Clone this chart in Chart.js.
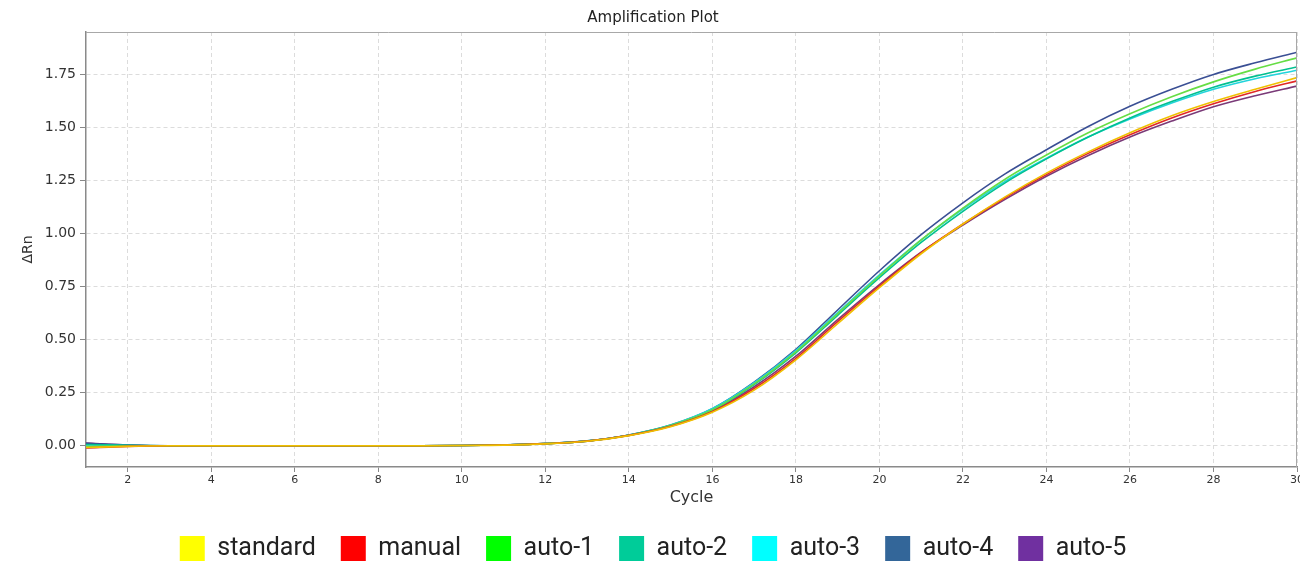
<!DOCTYPE html>
<html><head><meta charset="utf-8">
<script src="https://cdn.jsdelivr.net/npm/chart.js"></script>
<style>
html,body{margin:0;padding:0;background:#fff;overflow:hidden;width:1300px;height:566px}
#wrap{position:absolute;left:0;top:0;width:1306px;height:566px}
</style>
</head><body>
<div id="wrap"><canvas id="c"></canvas></div>
<script>
const cycles = [1,2,3,4,5,6,7,8,9,10,11,12,13,14,15,16,17,18,19,20,21,22,23,24,25,26,27,28,29,30];
const xTicks = [2,4,6,8,10,12,14,16,18,20,22,24,26,28,30];
const yTicks = [0,0.25,0.5,0.75,1.0,1.25,1.5,1.75];
const seriesNames = ['standard','manual','auto-1','auto-2','auto-3','auto-4','auto-5'];
const legendColors = ['#ffff00','#ff0000','#00ff00','#00cc99','#00ffff','#336699','#7030a0'];
const lineColors = ['#f0c000','#e02828','#66dd44','#00c090','#22d4dc','#3a4f94','#7a3a78'];

const standard = [-0.008,-0.003,0,0,0,0,0,0,0,0.001,0.003,0.009,0.021,0.048,0.090,0.158,0.262,0.405,0.575,0.745,0.905,1.045,1.172,1.285,1.385,1.475,1.555,1.622,1.680,1.735];
const manual   = [-0.010,-0.003,0,0,0,0,0,0,0,0.001,0.004,0.010,0.022,0.049,0.092,0.162,0.270,0.412,0.585,0.752,0.910,1.045,1.168,1.278,1.378,1.466,1.545,1.612,1.670,1.720];
const auto1    = [-0.004,-0.001,0,0,0,0,0,0,0,0.001,0.004,0.010,0.022,0.050,0.096,0.170,0.292,0.443,0.622,0.800,0.970,1.120,1.255,1.370,1.475,1.565,1.645,1.715,1.775,1.828];
const auto2    = [0.006,0.002,0,0,0,0,0,0,0,0.001,0.004,0.010,0.022,0.050,0.095,0.168,0.288,0.438,0.615,0.792,0.958,1.105,1.238,1.352,1.455,1.545,1.622,1.690,1.742,1.785];
const auto3    = [0.004,0.001,0,0,0,0,0,0,0,0.001,0.004,0.010,0.023,0.051,0.098,0.176,0.298,0.450,0.628,0.805,0.970,1.115,1.245,1.355,1.455,1.540,1.615,1.680,1.730,1.770];
const auto4    = [0.012,0.003,0,0,0,0,0,0,0,0.001,0.004,0.010,0.023,0.051,0.098,0.175,0.300,0.455,0.640,0.825,0.995,1.145,1.280,1.395,1.505,1.600,1.680,1.750,1.805,1.855];
const auto5    = [0.013,0.004,0,0,0,0,0,0,0,0.001,0.004,0.010,0.022,0.049,0.093,0.165,0.278,0.422,0.595,0.760,0.912,1.040,1.160,1.270,1.368,1.455,1.530,1.598,1.650,1.695];
const allSeries = [standard, manual, auto1, auto2, auto3, auto4, auto5];

const datasets = allSeries.map((vals, i) => ({
  label: seriesNames[i],
  data: cycles.map((c, j) => ({x: c, y: vals[j]})),
  borderColor: lineColors[i],
  backgroundColor: legendColors[i],
  borderWidth: 1.6,
  pointRadius: 0,
  cubicInterpolationMode: 'monotone',
  fill: false
}));

const frame = {
  id: 'frame',
  afterDatasetsDraw(chart) {
    const {ctx, chartArea: a} = chart;
    ctx.save();
    ctx.strokeStyle = '#a8a8a8';
    ctx.lineWidth = 1;
    ctx.beginPath();
    ctx.moveTo(a.left, a.top + 0.5);
    ctx.lineTo(a.right, a.top + 0.5);
    ctx.moveTo(a.right - 0.5, a.top);
    ctx.lineTo(a.right - 0.5, a.bottom);
    ctx.stroke();
    ctx.restore();
  }
};

new Chart(document.getElementById('c'), {
  type: 'line',
  data: {datasets},
  plugins: [frame],
  options: {
    responsive: true,
    maintainAspectRatio: false,
    animation: false,
    layout: {padding: {left: 0, right: 0, top: 0, bottom: -5}},
    plugins: {
      title: {
        display: true,
        text: 'Amplification Plot',
        color: '#222',
        font: {family: 'DejaVu Sans', size: 15, weight: 'normal'},
        padding: {top: 9, bottom: 5}
      },
      legend: {
        position: 'bottom',
        labels: {
          font: {family: 'Roboto', size: 25},
          color: '#222',
          boxWidth: 25,
          boxHeight: 25,
          padding: 25,
          generateLabels(chart) {
            const items = Chart.defaults.plugins.legend.labels.generateLabels(chart);
            items.forEach((it, i) => { it.fillStyle = legendColors[i]; it.strokeStyle = legendColors[i]; it.lineWidth = 0; });
            return items;
          }
        }
      },
      tooltip: {enabled: false}
    },
    scales: {
      x: {
        type: 'linear',
        min: 1,
        max: 30,
        afterBuildTicks(axis) { axis.ticks = xTicks.map(v => ({value: v})); },
        afterFit(axis) { axis.height = 44; },
        ticks: {
          color: '#333',
          font: {family: 'DejaVu Sans', size: 11},
          padding: 2,
          maxRotation: 0,
          autoSkip: false,
          callback: v => String(v)
        },
        grid: {
          color: '#dcdcdc',
          tickLength: 5,
          tickColor: '#888',
          tickBorderDash: []
        },
        border: {display: true, color: '#8a8a8a', width: 1.5, dash: [4, 3]},
        title: {
          display: true,
          text: 'Cycle',
          color: '#333',
          font: {family: 'DejaVu Sans', size: 16},
          padding: {top: 0, bottom: 4}
        }
      },
      y: {
        type: 'linear',
        min: -0.1,
        max: 1.95,
        afterBuildTicks(axis) { axis.ticks = yTicks.map(v => ({value: v})); },
        afterFit(axis) { axis.width = 86; },
        ticks: {
          color: '#333',
          font: {family: 'DejaVu Sans', size: 14},
          padding: 4,
          callback: v => Number(v).toFixed(2)
        },
        grid: {
          color: '#dcdcdc',
          tickLength: 6,
          tickColor: '#888',
          tickBorderDash: []
        },
        border: {display: true, color: '#8a8a8a', width: 1.5, dash: [4, 3]},
        title: {
          display: true,
          text: 'ΔRn',
          color: '#333',
          font: {family: 'DejaVu Sans', size: 14},
          padding: {top: 20, bottom: 0}
        }
      }
    }
  }
});
</script>
</body></html>
